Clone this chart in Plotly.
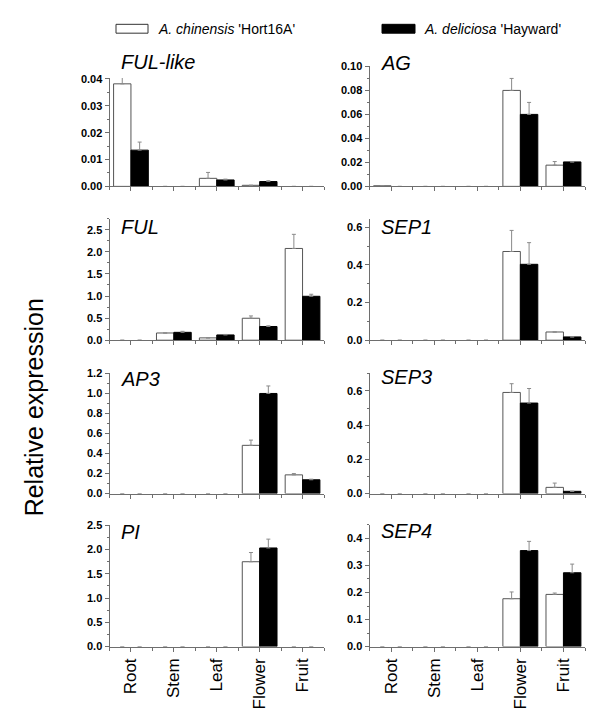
import plotly.graph_objects as go
from plotly.subplots import make_subplots

W, H = 600, 722

tissues = ["Root", "Stem", "Leaf", "Flower", "Fruit"]
x_pos = list(range(len(tissues)))

# Hort16A (A. chinensis) and Hayward (A. deliciosa) means and upper error bars
ful_like_hort = [0.0382, 0, 0.0030, 0.0004, 0]
ful_like_hort_err = [0.0028, None, 0.0022, None, None]
ful_like_hay = [0.0135, 0, 0.0024, 0.0018, 0]
ful_like_hay_err = [0.0030, None, 0.0003, 0.0003, None]

ag_hort = [0.0005, 0, 0, 0.080, 0.0177]
ag_hort_err = [None, None, None, 0.010, 0.003]
ag_hay = [0, 0, 0, 0.060, 0.0204]
ag_hay_err = [None, None, None, 0.010, None]

ful_hort = [0, 0.163, 0.052, 0.497, 2.077]
ful_hort_err = [None, None, None, 0.052, 0.32]
ful_hay = [0, 0.178, 0.119, 0.310, 0.994]
ful_hay_err = [None, 0.022, 0.011, 0.016, 0.046]

sep1_hort = [0, 0, 0, 0.471, 0.0435]
sep1_hort_err = [None, None, None, 0.112, None]
sep1_hay = [0, 0, 0, 0.403, 0.0174]
sep1_hay_err = [None, None, None, 0.115, None]

ap3_hort = [0, 0, 0, 0.482, 0.187]
ap3_hort_err = [None, None, None, 0.052, 0.013]
ap3_hay = [0, 0, 0, 1.000, 0.138]
ap3_hay_err = [None, None, None, 0.075, 0.006]

sep3_hort = [0, 0, 0, 0.591, 0.0364]
sep3_hort_err = [None, None, None, 0.051, 0.025]
sep3_hay = [0, 0, 0, 0.529, 0.0134]
sep3_hay_err = [None, None, None, 0.085, None]

pi_hort = [0, 0, 0, 1.75, 0]
pi_hort_err = [None, None, None, 0.19, None]
pi_hay = [0, 0, 0, 2.034, 0]
pi_hay_err = [None, None, None, 0.182, None]

sep4_hort = [0, 0, 0, 0.177, 0.193]
sep4_hort_err = [None, None, None, 0.025, 0.005]
sep4_hay = [0, 0, 0, 0.355, 0.273]
sep4_hay_err = [None, None, None, 0.034, 0.032]

# gene, data, y range max, major dtick, (row, col), panel top/bottom px, title cap-top px
panels = [
    ("FUL-like", ful_like_hort, ful_like_hort_err, ful_like_hay, ful_like_hay_err, 0.0404, 0.01, 1, 1, 65, 175.3, 41),
    ("AG", ag_hort, ag_hort_err, ag_hay, ag_hay_err, 0.1005, 0.02, 1, 2, 52.7, 175.3, 42),
    ("FUL", ful_hort, ful_hort_err, ful_hay, ful_hay_err, 2.75, 0.5, 2, 1, 208.2, 331.7, 208),
    ("SEP1", sep1_hort, sep1_hort_err, sep1_hay, sep1_hay_err, 0.645, 0.2, 2, 2, 208.2, 331.7, 208),
    ("AP3", ap3_hort, ap3_hort_err, ap3_hay, ap3_hay_err, 1.205, 0.2, 3, 1, 365, 487.7, 362.5),
    ("SEP3", sep3_hort, sep3_hort_err, sep3_hay, sep3_hay_err, 0.705, 0.2, 3, 2, 365, 487.7, 361),
    ("PI", pi_hort, pi_hort_err, pi_hay, pi_hay_err, 2.51, 0.5, 4, 1, 519.5, 643.3, 519),
    ("SEP4", sep4_hort, sep4_hort_err, sep4_hay, sep4_hay_err, 0.45, 0.1, 4, 2, 519.5, 643.3, 518),
]

col_x = {1: (101.5, 316), 2: (361.5, 577)}

FONT = "Liberation Sans, Arial, sans-serif"
AXIS_COL = "#6e6e6e"

fig = make_subplots(rows=4, cols=2)

annotations = []
for gene, h, he, d, de, ymax, dt, r, c, top, bot, ttop in panels:
    err_style = dict(type="data", symmetric=False, color="#8a8a8a", thickness=1, width=2)
    # no outline on empty bars, so they don't show up as marks on the axis
    fig.add_trace(go.Bar(x=x_pos, y=h,
                         marker=dict(color="white", line=dict(color="#555555", width=[1 if v > 0 else 0 for v in h])),
                         error_y=dict(array=he, arrayminus=[0] * 5, **err_style),
                         showlegend=False), row=r, col=c)
    fig.add_trace(go.Bar(x=x_pos, y=d,
                         marker=dict(color="black", line=dict(color="black", width=[1 if v > 0 else 0 for v in d])),
                         error_y=dict(array=de, arrayminus=[0] * 5, **err_style),
                         showlegend=False), row=r, col=c)
    idx = (r - 1) * 2 + c
    xa = "xaxis" if idx == 1 else f"xaxis{idx}"
    ya = "yaxis" if idx == 1 else f"yaxis{idx}"
    x0, x1 = col_x[c]
    fig.layout[xa].update(
        domain=[x0 / W, x1 / W], range=[-0.5, 4.5],
        tickmode="array", tickvals=x_pos, ticktext=tissues if r == 4 else [""] * 5,
        showticklabels=(r == 4), tickangle=-90,
        tickfont=dict(family=FONT, size=17, color="black"),
        ticks="outside", ticklen=4, tickcolor=AXIS_COL, tickwidth=1,
        minor=dict(ticks="outside", tick0=0.5, dtick=1, ticklen=3, tickcolor=AXIS_COL),
        showline=True, linecolor=AXIS_COL, linewidth=1, showgrid=False, zeroline=False,
    )
    fig.layout[ya].update(
        domain=[1 - bot / H, 1 - top / H], range=[0, ymax],
        tickmode="linear", tick0=0, dtick=dt,
        tickformat=".2f" if dt < 0.1 else ".1f",
        tickfont=dict(family=FONT, size=11, color="black", weight="bold"),
        ticks="outside", ticklen=4, tickcolor=AXIS_COL, tickwidth=1,
        minor=dict(ticks="outside", dtick=dt / 2, ticklen=2, tickcolor=AXIS_COL),
        showline=True, linecolor=AXIS_COL, linewidth=1, showgrid=False, zeroline=False,
    )
    annotations.append(dict(
        text=f"<i>{gene}</i>", xref="paper", yref="paper",
        x=(x0 + 9) / W, y=1 - (ttop - 5) / H, xanchor="left", yanchor="top",
        showarrow=False, font=dict(family=FONT, size=20, color="black"),
    ))

# legend drawn by hand to get the wide swatches
shapes = [
    dict(type="rect", xref="paper", yref="paper", x0=108 / W, x1=140 / W,
         y0=1 - 19.5 / H, y1=1 - 10.5 / H, fillcolor="white", line=dict(color="#333333", width=1)),
    dict(type="rect", xref="paper", yref="paper", x0=374 / W, x1=407 / W,
         y0=1 - 19.5 / H, y1=1 - 10.5 / H, fillcolor="black", line=dict(color="black", width=1)),
]
annotations += [
    dict(text="<i>A. chinensis</i> 'Hort16A'", xref="paper", yref="paper", x=148 / W, y=1 - 15 / H,
         xanchor="left", yanchor="middle", showarrow=False, font=dict(family=FONT, size=14, color="black")),
    dict(text="<i>A. deliciosa</i> 'Hayward'", xref="paper", yref="paper", x=414 / W, y=1 - 15 / H,
         xanchor="left", yanchor="middle", showarrow=False, font=dict(family=FONT, size=14, color="black")),
    dict(text="Relative expression", xref="paper", yref="paper", x=26 / W, y=1 - 400 / H,
         xanchor="center", yanchor="middle", textangle=-90, showarrow=False,
         font=dict(family=FONT, size=25, color="black")),
]

fig.update_layout(
    width=W, height=H, margin=dict(l=0, r=0, t=0, b=0),
    plot_bgcolor="white", paper_bgcolor="white",
    barmode="group", bargap=0.19, bargroupgap=0,
    shapes=shapes, annotations=annotations, showlegend=False,
)

fig.write_html("out.html")
